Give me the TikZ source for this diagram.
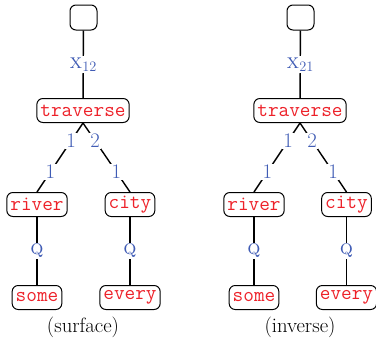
\documentclass[tikz,border=0pt]{standalone}
\usepackage{fontspec}
\definecolor{lblue}{rgb}{0.25,0.36,0.71}
\definecolor{tred}{rgb}{0.93,0.13,0.16}
\newcommand\bigsz{\fontsize{20.7}{24}\selectfont}
\tikzset{
  wbox/.style={draw, rounded corners=6pt, line width=1pt, font=\bigsz\ttfamily, text=tred,
    inner xsep=3.5pt, inner ysep=0pt, minimum height=24pt},
  ebox/.style={draw, rounded corners=6pt, line width=1pt, minimum width=27pt, minimum height=25pt, inner sep=0pt},
  elab/.style={font=\bigsz, text=lblue, fill=white, inner sep=1.5pt},
  captext/.style={font=\bigsz, inner sep=0pt},
  conn/.style={line width=1.4pt}
}
\begin{document}
\begin{tikzpicture}[x=1pt,y=-1pt]
\useasboundingbox (0,0) rectangle (376,343);
% left tree (surface)
\node[ebox] (t1) at (83.5,17.5) {};
\node[wbox] (tr1) at (83,110.5) {traverse};
\node[wbox] (ri1) at (37,204.5) {river};
\node[wbox] (ci1) at (130,204.5) {city};
\node[wbox] (so1) at (37,297.5) {some};
\node[wbox] (ev1) at (130,297.5) {every};
\node[captext] (c1) at (83,327) {(surface)};
\draw[conn] (t1) -- node[elab]{\textsc{x}$_{12}$} (tr1);
\draw[conn] (tr1.south) -- node[elab,pos=0.26]{1} node[elab,pos=0.71]{1} (ri1.north);
\draw[conn] (tr1.south) -- node[elab,pos=0.26]{2} node[elab,pos=0.71]{1} (ci1.north);
\draw[conn] (ri1) -- node[elab]{\textsc{q}} (so1);
\draw[conn] (ci1) -- node[elab]{\textsc{q}} (ev1);
% right tree (inverse)
\node[ebox] (t2) at (300.5,17.5) {};
\node[wbox] (tr2) at (300,110.5) {traverse};
\node[wbox] (ri2) at (254,204.5) {river};
\node[wbox] (ci2) at (346.5,204.5) {city};
\node[wbox] (so2) at (254,297.5) {some};
\node[wbox] (ev2) at (346.5,297.5) {every};
\node[captext] (c2) at (300,327) {(inverse)};
\draw[conn] (t2) -- node[elab]{\textsc{x}$_{21}$} (tr2);
\draw[conn] (tr2.south) -- node[elab,pos=0.26]{1} node[elab,pos=0.71]{1} (ri2.north);
\draw[conn] (tr2.south) -- node[elab,pos=0.26]{2} node[elab,pos=0.71]{1} (ci2.north);
\draw[conn] (ri2) -- node[elab]{\textsc{q}} (so2);
\draw[conn] (ci2) -- node[elab]{\textsc{q}} (ev2);
\end{tikzpicture}
\end{document}
